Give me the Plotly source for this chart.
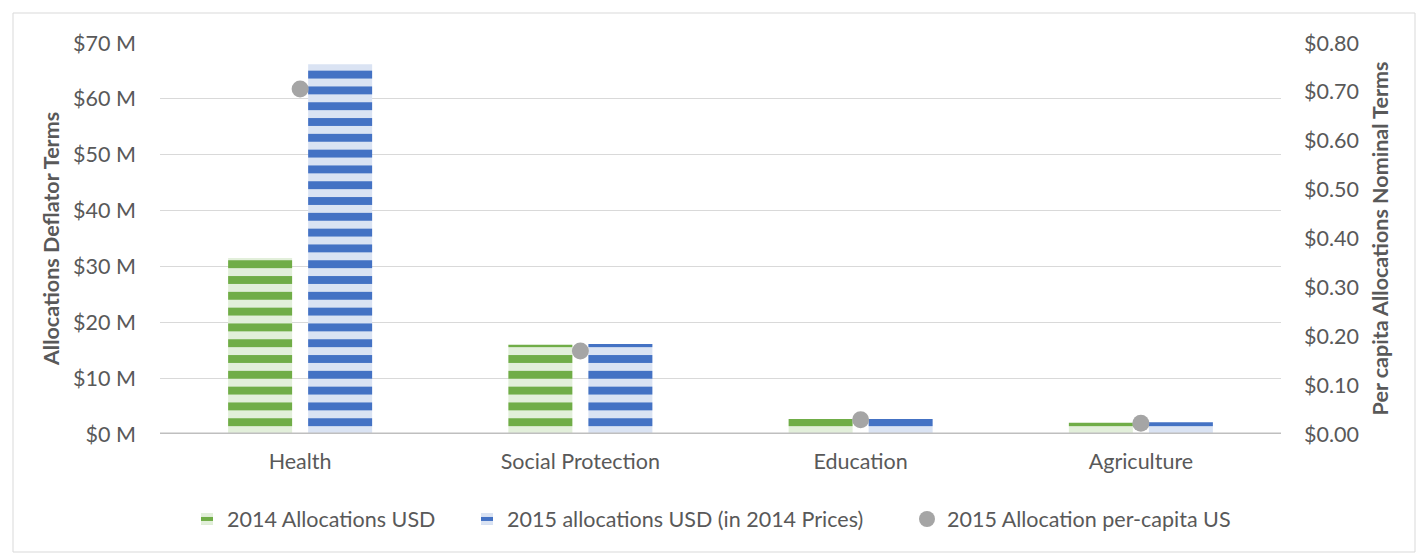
import plotly.graph_objects as go

categories = ["Health", "Social Protection", "Education", "Agriculture"]
alloc_2014 = [31.5, 16.0, 2.7, 2.0]
alloc_2015 = [66.2, 16.1, 2.7, 2.1]
per_capita_2015 = [0.706, 0.17, 0.029, 0.022]

FONT = "Lato, 'Open Sans', sans-serif"
GREY = "#595959"
FS = 21.5

W, H = 1417, 554
L, R, T, B = 160, 136, 43, 120
pw, ph = W - L - R, H - T - B


def px_x(p):
    return (p - L) / pw


fig = go.Figure()
fig.add_trace(go.Bar(
    x=categories, y=alloc_2014, name="2014 Allocations USD", legend="legend",
    marker=dict(color="#70AD47", line=dict(width=0),
                pattern=dict(shape="-", fgcolor="#E2EFDA", bgcolor="#70AD47",
                             size=15.8, solidity=0.5, fillmode="replace")),
))
fig.add_trace(go.Bar(
    x=categories, y=alloc_2015, name="2015 allocations USD (in 2014 Prices)", legend="legend2",
    marker=dict(color="#4472C4", line=dict(width=0),
                pattern=dict(shape="-", fgcolor="#DAE3F3", bgcolor="#4472C4",
                             size=15.8, solidity=0.5, fillmode="replace")),
))
fig.add_trace(go.Scatter(
    x=categories, y=per_capita_2015, name="2015 Allocation per-capita US",
    mode="markers", yaxis="y2", legend="legend3",
    marker=dict(color="#A5A5A5", size=17, line=dict(width=0)),
))

leg_y = (H - B - 519) / ph
leg_common = dict(orientation="h", y=leg_y, yanchor="middle", xanchor="left",
                  font=dict(size=FS, color=GREY), itemwidth=30,
                  bgcolor="rgba(0,0,0,0)")

fig.update_layout(
    width=W, height=H,
    margin=dict(l=L, r=R, t=T, b=B, pad=0, autoexpand=False),
    paper_bgcolor="white", plot_bgcolor="white",
    font=dict(family=FONT, color=GREY, size=FS),
    barmode="group", bargap=0.429, bargroupgap=0.2,
    showlegend=True,
    legend=dict(x=px_x(187), **leg_common),
    legend2=dict(x=px_x(467), **leg_common),
    legend3=dict(x=px_x(907), **leg_common),
    xaxis=dict(showgrid=False, ticks="", showline=False, zeroline=False,
               ticklabelstandoff=12, automargin=False,
               tickfont=dict(size=FS, color=GREY)),
    yaxis=dict(range=[0, 70], dtick=10, tickprefix="$", ticksuffix=" M",
               showgrid=True, gridcolor="#D9D9D9", gridwidth=1,
               zeroline=False, ticks="", showline=False, automargin=False,
               ticklabelstandoff=23,
               title=dict(text="<b>Allocations Deflator Terms</b>", standoff=7,
                          font=dict(size=FS, color=GREY))),
    yaxis2=dict(range=[0, 0.8], dtick=0.1, tickformat=".2f", tickprefix="$",
                overlaying="y", side="right", showgrid=False, zeroline=False,
                ticks="", showline=False, ticklabelstandoff=22, automargin=False,
                title=dict(text="<b>Per capita Allocations Nominal Terms</b>", standoff=14,
                           font=dict(size=FS, color=GREY))),
    shapes=[
        dict(type="line", xref="paper", yref="y", x0=0, x1=1, y0=0, y1=0,
             line=dict(color="#BFBFBF", width=3), layer="above"),
        dict(type="rect", xref="paper", yref="paper",
             x0=(13 - L) / pw, x1=(W - 2 - L) / pw,
             y0=((H - B) - (H - 2)) / ph, y1=((H - B) - 13) / ph,
             line=dict(color="#D9D9D9", width=1), fillcolor="rgba(0,0,0,0)", layer="below"),
    ],
)

fig.write_html("out.html", config={"displayModeBar": False},
               post_script="document.body.style.margin='0px';")
